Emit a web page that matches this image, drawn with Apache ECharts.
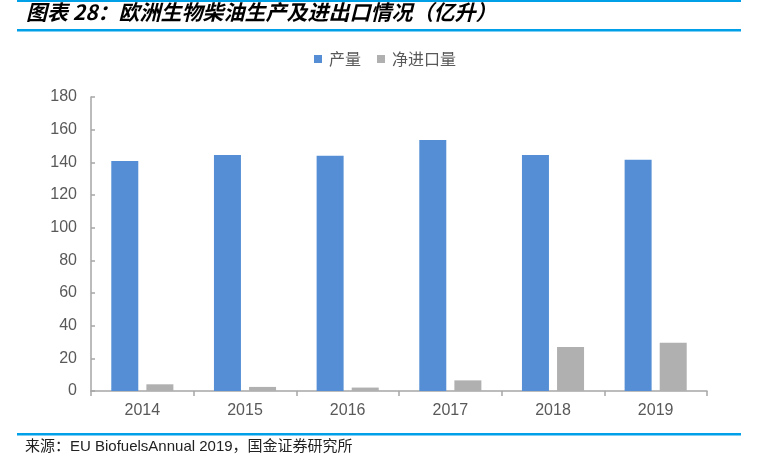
<!DOCTYPE html>
<html><head><meta charset="utf-8">
<script src="https://cdn.jsdelivr.net/npm/echarts@6/dist/echarts.min.js"></script>
<style>html,body{margin:0;padding:0;background:#fff;}#c{width:770px;height:471px;}</style>
</head><body><div id="c"></div>
<script>
const categories = ['2014','2015','2016','2017','2018','2019'];
const production = [140.8, 144.5, 144.1, 153.7, 144.5, 141.6];
const netImports = [4.1, 2.5, 2.1, 6.5, 26.9, 29.6];
const seriesNames = ['产量','净进口量'];
const titleText = '图表 28：欧洲生物柴油生产及进出口情况（亿升）';
const sourceText = '来源：EU BiofuelsAnnual 2019，国金证券研究所';

const chart = echarts.init(document.getElementById('c'), null, {renderer:'canvas'});
const lineColor = '#00a0e9';
const latin = '"Liberation Sans", Arial, sans-serif';
chart.setOption({
  animation:false,
  backgroundColor:'#fff',
  graphic:[
    {type:'rect', shape:{x:17,y:0,width:724,height:2}, style:{fill:lineColor}},
    {type:'text', left:26, top:2, style:{text:titleText, font:'italic bold 21px "Noto Sans CJK SC", sans-serif', fill:'#000'}},
    {type:'rect', shape:{x:17,y:29,width:724,height:2.5}, style:{fill:lineColor}},
    {type:'rect', shape:{x:17,y:433,width:724,height:2.5}, style:{fill:lineColor}},
    {type:'text', left:25, top:439, style:{text:sourceText, font:'15px "Liberation Sans", "Noto Sans CJK SC", sans-serif', fill:'#222'}}
  ],
  legend:{
    top:46, left:'center', itemWidth:8, itemHeight:8, itemGap:16,
    icon:'rect',
    textStyle:{color:'#595959', fontSize:16, fontFamily:'"Noto Sans CJK SC", sans-serif', padding:[0,0,0,2]},
    data:seriesNames
  },
  grid:{left:91, right:63, top:97, bottom:80, containLabel:false},
  xAxis:{
    type:'category', data:categories,
    axisLine:{lineStyle:{color:'#a6a6a6', width:1.5}},
    axisTick:{show:true, length:5, lineStyle:{color:'#a6a6a6', width:1.5}},
    axisLabel:{color:'#595959', fontSize:16, margin:12, fontFamily:latin}
  },
  yAxis:{
    type:'value', min:0, max:180, interval:20,
    axisLine:{show:true, lineStyle:{color:'#a6a6a6', width:1.5}},
    axisTick:{show:true, inside:true, length:4, lineStyle:{color:'#a6a6a6', width:1.5}},
    splitLine:{show:false},
    axisLabel:{color:'#595959', fontSize:16, margin:14, fontFamily:latin}
  },
  series:[
    {name:seriesNames[0], type:'bar', data:production, barWidth:27, barGap:'30%',
     itemStyle:{color:'#558ed5'}},
    {name:seriesNames[1], type:'bar', data:netImports, barWidth:27,
     itemStyle:{color:'#b0b0b0'}}
  ]
});
</script></body></html>
